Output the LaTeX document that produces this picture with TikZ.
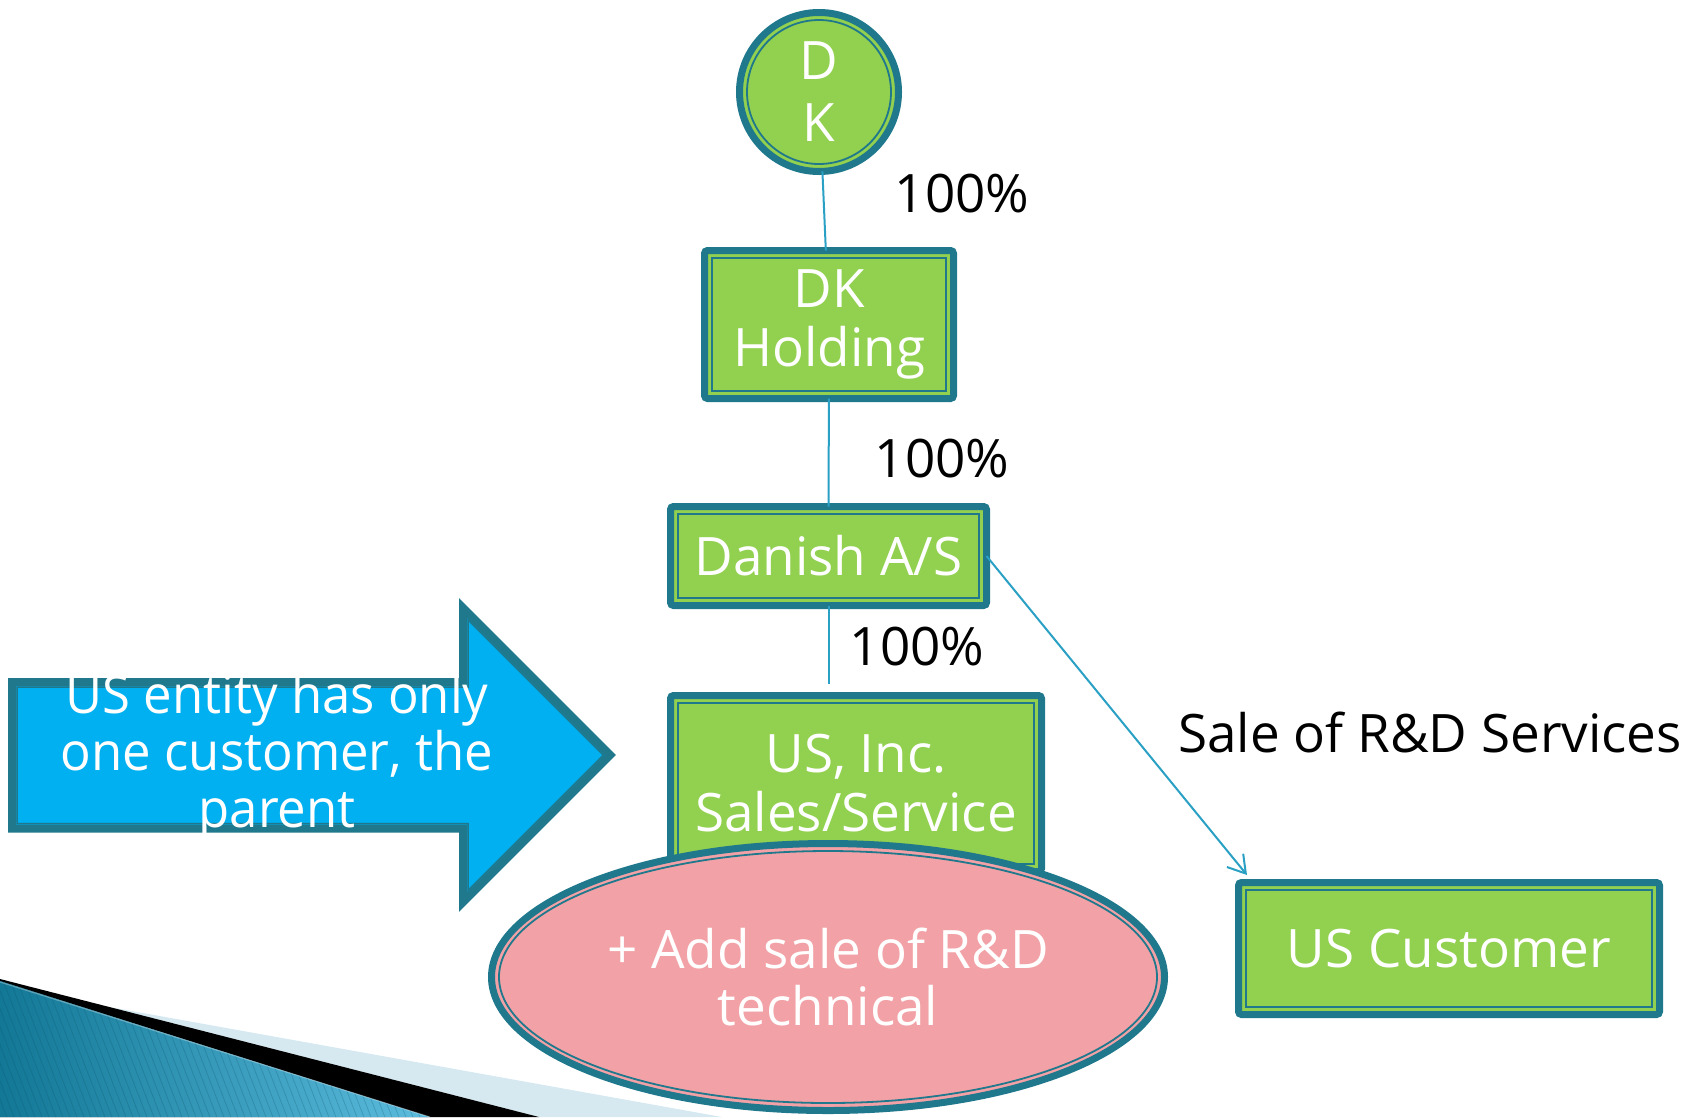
\documentclass[tikz,border=0pt]{standalone}
\usepackage{fontspec}
\setmainfont{Open Sans}
\newfontfamily\narrowfont[FakeStretch=0.96]{Open Sans}
\usetikzlibrary{arrows.meta,shapes.geometric,calc}

\definecolor{leaf}{RGB}{146,208,80}
\definecolor{rim}{RGB}{31,120,140}
\definecolor{wirecol}{RGB}{41,160,196}
\definecolor{sky}{RGB}{0,176,240}
\definecolor{rose}{RGB}{242,162,166}
\definecolor{mist}{RGB}{214,233,241}
\definecolor{swA}{RGB}{18,120,150}
\definecolor{swB}{RGB}{92,188,222}

\begin{document}
\begin{tikzpicture}[x=1pt,y=-1pt,
  every node/.style={font=\fontsize{53}{59}\selectfont},
  entity/.style={draw=rim, line width=7pt, fill=leaf, text=white,
    rounded corners=3pt, inner sep=0pt, outer sep=0pt, align=center},
  innerrim/.style={draw=rim, line width=1.8pt},
  wireline/.style={draw=wirecol, line width=2pt},
  pct/.style={text=black, anchor=base, inner sep=0pt},
]
\useasboundingbox (0,0) rectangle (1688,1117);

% decorative swoosh in the lower left corner
\fill[mist] (104,1006) -- (722,1117) -- (539,1117) -- cycle;
\fill[black] (0,979) -- (539,1117) -- (430,1117) -- (0,981) -- cycle;
\fill[left color=swA, right color=swB] (0,981) -- (430,1117) -- (0,1117) -- cycle;
\begin{scope}
  \clip (0,981) -- (430,1117) -- (0,1117) -- cycle;
  \foreach \i in {-120,-113,...,460}
    \draw[swA!70!black, opacity=0.25, line width=0.8pt] (\i,970) -- ++(60,155);
\end{scope}
\draw[white, opacity=0.3, line width=1.2pt] (0,982) -- (430,1117);

% block arrow with the note
\filldraw[fill=sky, draw=rim, line width=8pt, line join=miter]
  (12,682) -- (463,682) -- (463,607.7) -- (610.3,755) -- (463,902.3)
  -- (463,828.5) -- (12,828.5) -- cycle;
\draw[rim, line width=1.5pt, line join=miter]
  (17,687) -- (468,687) -- (468,619.7) -- (603.3,755) -- (468,890.3)
  -- (468,823.5) -- (17,823.5) -- cycle;
\node[text=white, align=center, inner sep=0pt,
  font=\narrowfont\fontsize{53}{57}\selectfont] (note) at (277,757)
  {US entity has only\\one customer, the\\parent};

% ownership chain
\node[entity, circle, minimum size=159pt, font=\fontsize{53}{62}\selectfont] (dk) at (819,92) {D\\K};
\draw[innerrim] (dk.center) circle (72pt);

\node[entity, minimum width=249pt, minimum height=148pt] (dkh) at (829,324.5) {DK\\Holding};
\draw[innerrim] ($(dkh.north west)+(7.5,7.5)$) rectangle ($(dkh.south east)+(-7.5,-7.5)$);

\node[entity, minimum width=316pt, minimum height=99pt] (das) at (828.5,556) {Danish A/S};
\draw[innerrim] ($(das.north west)+(7.5,7.5)$) rectangle ($(das.south east)+(-7.5,-7.5)$);

\node[entity, minimum width=371pt, minimum height=176pt] (usi) at (856,783.5) {US, Inc.\\Sales/Service};
\draw[innerrim] ($(usi.north west)+(7.5,7.5)$) rectangle ($(usi.south east)+(-7.5,-7.5)$);

\node[entity, ellipse, fill=rose, minimum width=673pt, minimum height=267pt,
  font=\fontsize{53}{57}\selectfont] (add) at (828,977)
  {+ Add sale of R\&D\\technical};
\draw[innerrim] (add.center) ellipse [x radius=329pt, y radius=126pt];

\node[entity, minimum width=421pt, minimum height=132pt] (usc) at (1449,948.5) {US Customer};
\draw[innerrim] ($(usc.north west)+(7.5,7.5)$) rectangle ($(usc.south east)+(-7.5,-7.5)$);

% connectors
\coordinate (stub) at (828.5,684);
\coordinate (salend) at (1247,875);
\draw[wireline] (dk) -- (dkh);
\draw[wireline] (dkh) -- (das);
\draw[wireline] (das.south) -- (stub);
\draw[wireline, -{Straight Barb[length=17pt,width=21pt,line width=2pt]}] (das.east) -- (salend);

% labels
\node[pct] (p1) at (962,212) {100\%};
\node[pct] (p2) at (942,477) {100\%};
\node[pct] (p3) at (917,665) {100\%};
\node[text=black, anchor=base west, inner sep=0pt] (sale) at (1178,752) {Sale of R\&D Services};
\end{tikzpicture}
\end{document}
